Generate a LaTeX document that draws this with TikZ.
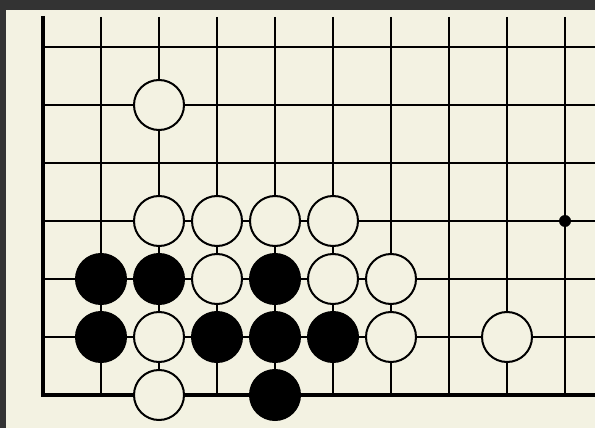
\documentclass[tikz,border=0pt]{standalone}
\definecolor{boardbg}{HTML}{F3F2E2}
\definecolor{frame}{HTML}{333333}
\tikzset{
  gridline/.style={line width=2pt, black},
  edgeline/.style={line width=4.5pt, black},
  wstone/.style={circle, draw=black, line width=2pt, fill=boardbg, minimum size=50pt, inner sep=0pt},
  bstone/.style={circle, draw=black, line width=2pt, fill=black, minimum size=50pt, inner sep=0pt},
  hoshi/.style={circle, fill=black, minimum size=12pt, inner sep=0pt}
}
\begin{document}
\begin{tikzpicture}[x=1pt,y=-1pt]
\fill[frame] (0,0) rectangle (595,428);
\fill[boardbg] (6,10) rectangle (595,428);
\useasboundingbox (0,0) rectangle (595,428);
% vertical lines
\foreach \i in {1,...,9} {
  \draw[gridline] ({43+58*\i},17) -- ({43+58*\i},395);
}
% horizontal lines
\foreach \j in {0,...,5} {
  \draw[gridline] (43,{47+58*\j}) -- (595,{47+58*\j});
}
% edges
\draw[edgeline] (43,16) -- (43,395);
\draw[edgeline] (40.75,395) -- (595,395);
% star point
\node[hoshi] (h) at (565,221) {};
% stones
\node[wstone] (w1) at (159,105) {};
\node[wstone] (w2) at (159,221) {};
\node[wstone] (w3) at (217,221) {};
\node[wstone] (w4) at (275,221) {};
\node[wstone] (w5) at (333,221) {};
\node[bstone] (b1) at (101,279) {};
\node[bstone] (b2) at (159,279) {};
\node[wstone] (w6) at (217,279) {};
\node[bstone] (b3) at (275,279) {};
\node[wstone] (w7) at (333,279) {};
\node[wstone] (w8) at (391,279) {};
\node[bstone] (b4) at (101,337) {};
\node[wstone] (w9) at (159,337) {};
\node[bstone] (b5) at (217,337) {};
\node[bstone] (b6) at (275,337) {};
\node[bstone] (b7) at (333,337) {};
\node[wstone] (w10) at (391,337) {};
\node[wstone] (w11) at (507,337) {};
\node[wstone] (w12) at (159,395) {};
\node[bstone] (b8) at (275,395) {};
\end{tikzpicture}
\end{document}
